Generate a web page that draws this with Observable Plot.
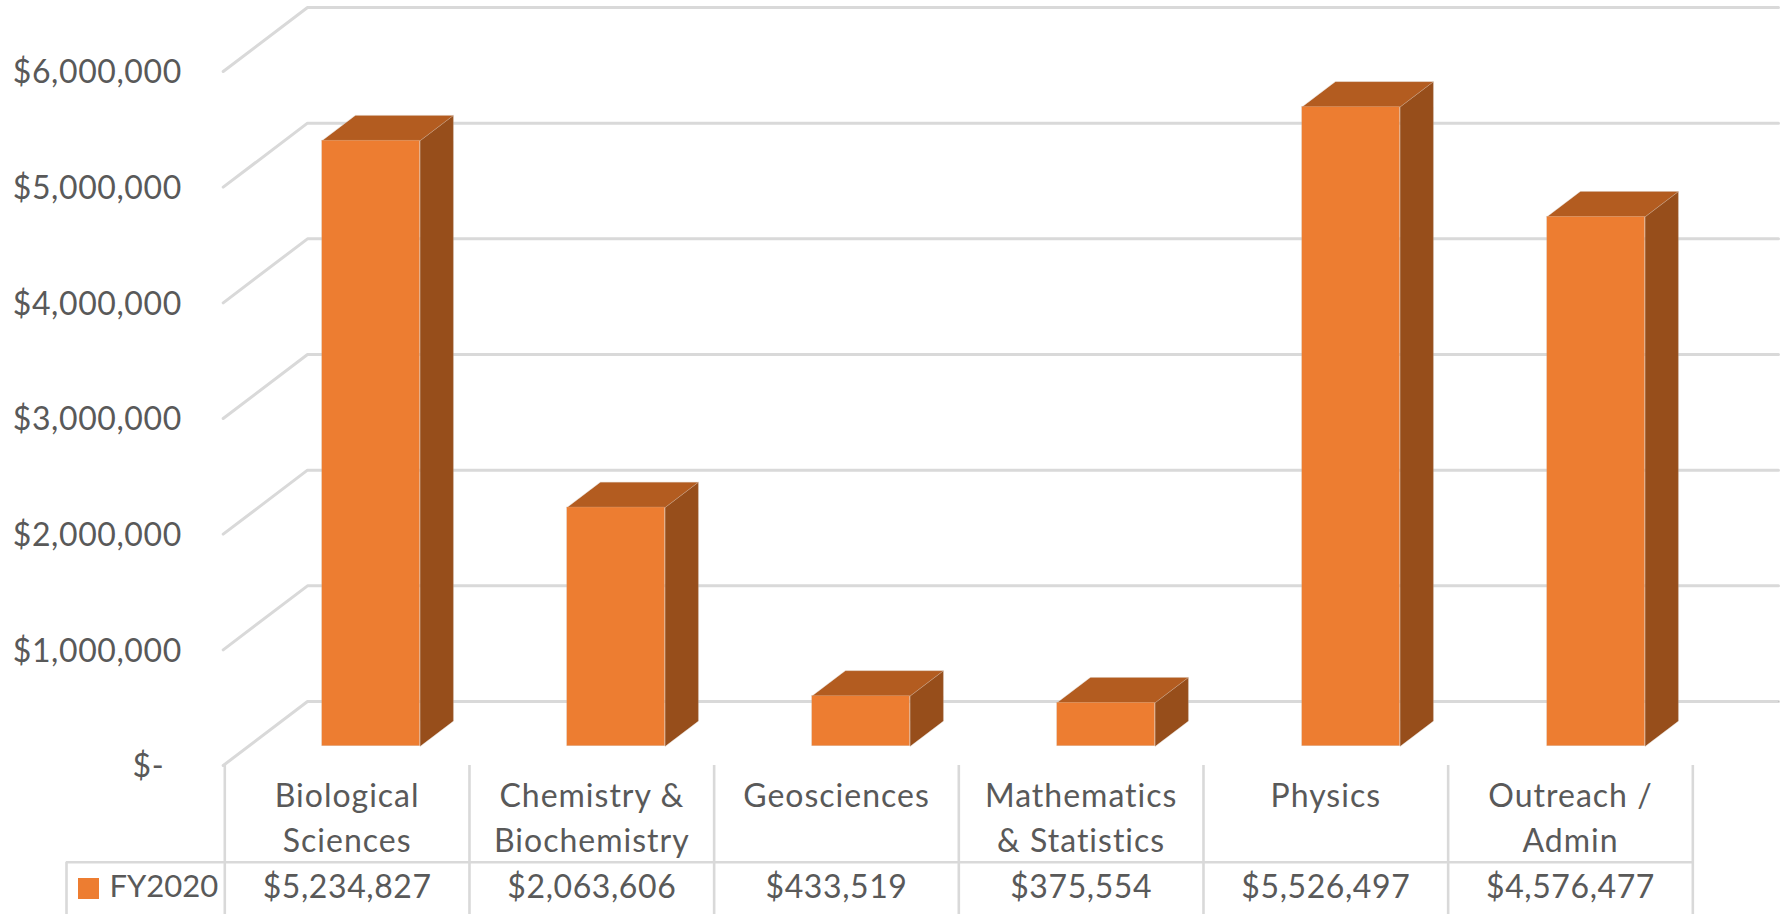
<!DOCTYPE html>
<html>
<head>
<meta charset="utf-8">
<script src="https://cdn.jsdelivr.net/npm/d3@7"></script>
<script src="https://cdn.jsdelivr.net/npm/@observablehq/plot@0.6"></script>
<style>
html,body{margin:0;padding:0;background:#fff;overflow:hidden}
svg{display:block}
svg text{letter-spacing:0.6px}
svg .cat text, svg text.cat{letter-spacing:1px}
svg .fy text, svg text.fy{letter-spacing:0}
</style>
</head>
<body>
<div id="chart"></div>
<script>
const categories = ["Biological\nSciences","Chemistry &\nBiochemistry","Geosciences","Mathematics\n& Statistics","Physics","Outreach /\nAdmin"];
const values = [5234827,2063606,433519,375554,5526497,4576477];
const valueLabels = ["$5,234,827","$2,063,606","$433,519","$375,554","$5,526,497","$4,576,477"];
const seriesName = "FY2020";
const yTicks = [0,1000000,2000000,3000000,4000000,5000000,6000000];
const yTickLabels = ["$-\u00a0\u00a0","$1,000,000","$2,000,000","$3,000,000","$4,000,000","$5,000,000","$6,000,000"];

// pixel geometry → scale units
const X0 = 224.3, STEP = 244.67, Y0 = 745.7, PX = 115.67 / 1e6;
const xOf = px => (px - X0) / STEP;
const yOf = px => (Y0 - px) / PX;

const barLeft = 97.4 / STEP, barW = 97.9 / STEP, barStep = 245 / STEP, depthX = 33.3 / STEP, depthY = 25.3 / PX;
const data = values.map((v,i)=>({i,v,x1:i*barStep+barLeft,x2:i*barStep+barLeft+barW}));
const poly = (fn)=>data.flatMap(d=>fn(d).map(([x,y])=>({id:d.i,x,y})));
const topFace = poly(d=>[[d.x1,d.v],[d.x2,d.v],[d.x2+depthX,d.v+depthY],[d.x1+depthX,d.v+depthY]]);
const sideFace = poly(d=>[[d.x2,0],[d.x2,d.v],[d.x2+depthX,d.v+depthY],[d.x2+depthX,depthY]]);

const wallFront = yOf(765), wallBack = yOf(701), wallX = xOf(307), gridEnd = xOf(1778), floorX = xOf(222.7);
const gridPts = yTicks.flatMap(t=>[
  {t,x:floorX,y:t+wallFront},
  {t,x:wallX,y:t+wallBack},
  {t,x:gridEnd,y:t+wallBack}
]);

const tableTop = yOf(765), rowLine = yOf(861.7), tableBottom = yOf(914);
const edges = d3.range(categories.length+1);
const TXT = "#595959", GRID = "#D9D9D9", FS = 32, EDGE = "#CDB9A8";
const cells = categories.map((c,i)=>({c,i,lab:valueLabels[i]}));

const chart = Plot.plot({
  width:1787, height:914,
  marginLeft:X0, marginRight:1787-X0-6*STEP, marginTop:51.7, marginBottom:914-Y0,
  style:{fontFamily:"Lato, 'Open Sans', sans-serif", background:"#fff"},
  x:{type:"linear",domain:[0,6],range:[X0,X0+6*STEP],axis:null},
  y:{type:"linear",domain:[0,6000000],range:[Y0,Y0-6000000*PX],axis:null},
  marks:[
    Plot.line(gridPts,{x:"x",y:"y",z:"t",stroke:GRID,strokeWidth:3,strokeLinejoin:"round"}),
    Plot.line(gridPts.filter(d=>d.t===0&&d.x>wallX),{x:"x",y:"y",stroke:"#BFBFBF",strokeWidth:1.2}),
    Plot.axisY({ticks:yTicks,tickFormat:t=>yTickLabels[yTicks.indexOf(t)],tickSize:0,tickPadding:43,dy:21,fontSize:FS,fill:TXT,label:null}),
    Plot.line(sideFace,{x:"x",y:"y",z:"id",curve:"linear-closed",fill:"#974E1B",stroke:EDGE,strokeWidth:0.5,strokeOpacity:0.6}),
    Plot.line(topFace,{x:"x",y:"y",z:"id",curve:"linear-closed",fill:"#B35C20",stroke:EDGE,strokeWidth:0.5,strokeOpacity:0.6}),
    Plot.rect(data,{x1:"x1",x2:"x2",y1:0,y2:"v",fill:"#ED7D31",stroke:EDGE,strokeWidth:0.5,strokeOpacity:0.5}),
    Plot.ruleX(edges,{x:d=>d,y1:tableTop,y2:tableBottom,stroke:GRID,strokeWidth:2.6}),
    Plot.ruleX([xOf(66)],{y1:rowLine,y2:tableBottom,stroke:GRID,strokeWidth:2.6}),
    Plot.ruleY([rowLine],{x1:xOf(66),x2:6,stroke:GRID,strokeWidth:2.6}),
    Plot.text(cells,{x:d=>d.i+0.5,y:yOf(774),text:"c",lineAnchor:"top",lineHeight:45.5/FS,fontSize:FS,fill:TXT,className:"cat"}),
    Plot.text(cells,{x:d=>d.i+0.5,y:yOf(887),text:"lab",fontSize:FS,fill:TXT}),
    Plot.rect([seriesName],{x1:xOf(78),x2:xOf(99),y1:yOf(899),y2:yOf(878),fill:"#ED7D31"}),
    Plot.text([seriesName],{x:xOf(109),y:yOf(887),text:d=>d,textAnchor:"start",fontSize:31,fill:TXT,className:"fy"})
  ]
});
document.getElementById("chart").append(chart);
</script>
</body>
</html>
